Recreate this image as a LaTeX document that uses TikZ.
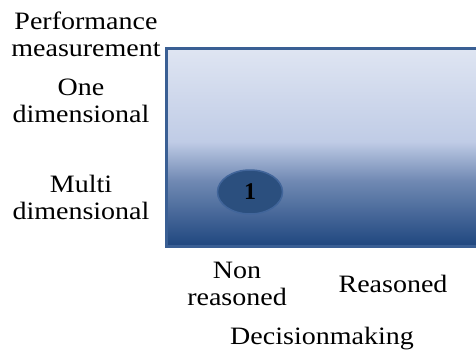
\documentclass[tikz,border=0pt]{standalone}
\usepackage{fontspec}
\setmainfont{Liberation Serif}
\usetikzlibrary{shapes.geometric}
\definecolor{bdark}{HTML}{1F477F}
\definecolor{bmid}{HTML}{7089B3}
\definecolor{bmid2}{HTML}{C0CCE6}
\definecolor{blight}{HTML}{DFE5F2}
\definecolor{frame}{HTML}{3A5F94}
\definecolor{ovfill}{HTML}{2B4F7E}
\definecolor{ovline}{HTML}{41659A}
\pgfdeclareverticalshading{quad}{100bp}{color(0bp)=(bdark); color(25bp)=(bdark); color(41.5bp)=(bmid); color(51.5bp)=(bmid2); color(75bp)=(blight); color(100bp)=(blight)}
\tikzset{
  lbl/.style={font=\fontsize{25}{27}\selectfont, align=center, inner sep=0pt, anchor=base, xscale=1.12},
}
\begin{document}
\begin{tikzpicture}[x=1pt,y=-1pt]
\useasboundingbox (0,0) rectangle (476,351);
\begin{scope}
\clip (0,0) rectangle (476,351);
\path[shading=quad] (166.5,48.5) rectangle (490,246);
\draw[frame, line width=3pt] (166.5,48.5) rectangle (490,246);
\end{scope}
\node[ellipse, minimum width=65pt, minimum height=44pt, fill=ovfill, draw=ovline, line width=1.5pt, inner sep=0pt,
  font=\fontsize{24}{26}\selectfont\bfseries] (one) at (250,192) {1};
\node[lbl] (pm) at (86,56) {Performance\\measurement};
\node[lbl] (od) at (81,122) {One\\dimensional};
\node[lbl] (md) at (81,219) {Multi\\dimensional};
\node[lbl] (nr) at (237,305) {Non\\reasoned};
\node[lbl] (rs) at (393,292) {Reasoned};
\node[lbl] (dm) at (322,344) {Decisionmaking};
\end{tikzpicture}
\end{document}
